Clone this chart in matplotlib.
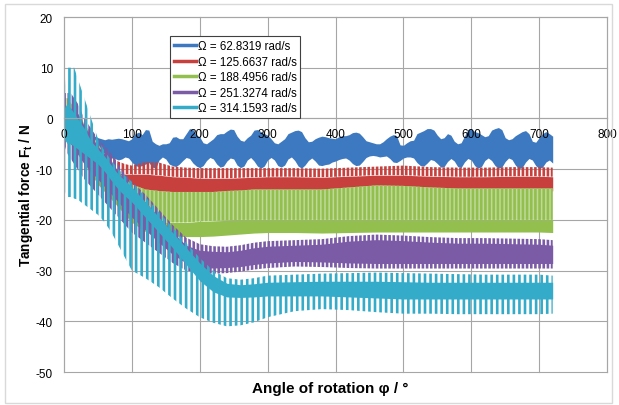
import matplotlib
matplotlib.use("Agg")
import matplotlib.pyplot as plt
from matplotlib.lines import Line2D
from matplotlib.patches import Rectangle

# angle grid (deg) used for the oscillating series envelopes
angle = [0, 5, 10, 15, 20, 30, 40, 50, 60, 70, 80, 90, 100, 120, 140, 160, 180,
         200, 220, 240, 260, 280, 300, 340, 380, 420, 460, 500, 540, 580, 620,
         660, 700, 720]

# Omega = 62.8319 rad/s : dense band, envelope read every 5 deg
blue_angle = list(range(0, 721, 5))
blue_upper = [
    2, 1, 0, -0.5, -1, -1.5, -2, -2.5, -3, -3.5,
    -3.8, -4.0, -4.2, -4.0, -4.1, -4.0, -3.9, -4.0, -4.2, -4.4,
    -4.0, -3.0, -2.7, -3.2, -2.2, -2.3, -4.5, -5.0, -5.3, -5.0,
    -5.0, -4.8, -3.7, -3.6, -4.0, -4.0, -3.0, -2.0, -2.2, -3.2,
    -3.7, -4.8, -5.0, -4.5, -4.0, -3.2, -3.0, -3.0, -2.5, -2.1,
    -2.2, -3.5, -4.3, -4.5, -3.8, -3.3, -2.3, -2.2, -2.6, -3.0,
    -3.3, -4.0, -4.8, -5.0, -4.5, -4.0, -3.0, -2.7, -2.4, -2.3,
    -2.6, -3.8, -4.6, -4.5, -4.0, -3.7, -3.5, -3.6, -3.8, -3.9,
    -4.0, -3.6, -3.4, -3.4, -3.2, -2.8, -2.7, -2.9, -3.6, -4.4,
    -4.6, -4.8, -5.0, -5.0, -4.6, -4.0, -3.5, -3.2, -3.4, -5.2,
    -5.3, -4.8, -4.4, -4.3, -3.0, -2.7, -2.4, -2.0, -2.0, -2.3,
    -3.3, -4.0, -3.8, -3.0, -3.3, -4.5, -5.0, -4.8, -3.5, -2.2,
    -2.0, -2.6, -2.8, -3.2, -3.6, -3.4, -2.3, -2.0, -1.8, -2.2,
    -3.8, -4.2, -4.0, -3.4, -3.0, -2.6, -2.4, -3.0, -4.5, -4.7,
    -3.8, -3.0, -2.6, -3.0, -3.5]
blue_lower = [
    -3, -4, -5, -5.5, -6, -6.5, -7, -7.2, -7.4, -7.5,
    -7.5, -7.5, -7.8, -7.7, -7.8, -7.9, -8.2, -8.0, -7.6, -7.8,
    -8.6, -9.3, -9.5, -9.3, -9.0, -8.7, -9.6, -9.8, -8.2, -7.6,
    -8.0, -9.0, -9.3, -9.5, -9.0, -8.3, -7.7, -7.9, -8.8, -9.4,
    -9.7, -9.3, -8.3, -7.7, -8.0, -9.0, -9.6, -9.4, -8.4, -7.8,
    -8.0, -9.2, -9.7, -9.4, -8.2, -7.7, -8.4, -9.4, -9.8, -9.4,
    -8.2, -7.7, -8.2, -9.3, -9.6, -9.2, -8.0, -7.6, -8.3, -9.4,
    -9.8, -9.2, -8.3, -7.8, -8.4, -9.2, -9.3, -9.1, -9.0, -8.6,
    -8.4, -8.1, -7.9, -7.8, -8.2, -8.9, -9.3, -9.2, -8.5, -7.7,
    -7.4, -7.3, -7.4, -7.6, -7.5, -7.4, -7.9, -8.6, -8.7, -8.3,
    -7.8, -7.6, -7.6, -7.8, -8.7, -9.3, -9.4, -8.8, -8.1, -8.3,
    -8.9, -9.6, -9.5, -8.5, -7.9, -8.4, -9.5, -9.7, -8.6, -7.9,
    -8.2, -9.3, -9.8, -9.5, -8.3, -7.8, -8.3, -9.3, -9.8, -9.6,
    -8.5, -7.8, -8.1, -9.2, -9.9, -9.7, -8.6, -7.9, -8.2, -9.3,
    -9.9, -9.6, -8.6, -8.2, -8.8]

# Omega = 125.6637 rad/s
red_upper = [3, 3, 3, 2, 1, -1, -3, -5, -6.5, -7.5, -8.5, -9, -9.3, -8.6, -8.7,
             -9.5, -9.7, -9.8, -9.8, -9.8, -9.8, -9.8, -9.8, -9.8, -9.9, -9.7,
             -9.5, -9.3, -9.6, -9.7, -9.7, -9.6, -9.6, -9.7]
red_core = [0, 0, -1, -2, -3, -5, -7, -8.5, -9.5, -10.3, -10.8, -11, -11, -11,
            -11.2, -11.5, -11.6, -11.8, -11.8, -11.8, -11.7, -11.6, -11.5, -11.5,
            -11.6, -11.4, -11.2, -11.2, -11.4, -11.5, -11.5, -11.4, -11.4, -11.5]
red_lower = [-2, -3, -4, -5, -6, -8, -9.5, -11, -12, -13, -14, -14.5, -15, -15.3,
             -15.3, -15, -14.8, -14.6, -14.5, -14.5, -14.4, -14.3, -14.3, -14.3,
             -14.3, -14.0, -13.8, -13.8, -14.0, -14.2, -14.3, -14.3, -14.3, -14.3]

# Omega = 188.4956 rad/s
green_upper = [4, 4, 3, 2, 1, -1, -3, -5, -7, -9, -10.5, -12, -13, -14, -14.3,
               -14.5, -14.5, -14.5, -14.5, -14.3, -14.2, -14.0, -14.0, -14.0,
               -14.0, -13.6, -13.2, -13.3, -13.6, -13.8, -13.8, -13.8, -13.8, -13.8]
green_core = [0, 0, -1, -2, -3, -5, -7, -9, -11, -13, -14.5, -16, -17.5, -19.5,
              -20.3, -20.5, -20.5, -20.3, -20.2, -20.1, -20, -20, -20, -20, -20,
              -20, -20, -20, -20, -20, -20, -20, -20, -20]
green_lower = [-3, -4, -5, -6, -7, -9, -11, -13, -14.5, -16, -17.5, -19, -20.5,
               -22.3, -23, -23.2, -23.3, -23.3, -23.2, -23, -22.8, -22.6, -22.5,
               -22.5, -22.6, -22.5, -22.4, -22.4, -22.4, -22.4, -22.4, -22.4,
               -22.4, -22.5]

# Omega = 251.3274 rad/s
purple_upper = [5, 5, 5, 4, 3, 0, -2, -4, -5.5, -7, -9, -11, -12.5, -15, -18,
                -21, -23.5, -24.8, -25.2, -25.3, -25, -24.5, -24.2, -24, -23.8,
                -23.2, -22.9, -23.1, -23.4, -23.6, -23.6, -23.7, -23.8, -24]
purple_core_top = [2, 2, 2, 1.5, 1, -1.5, -3.5, -5.5, -7, -8.5, -10.5, -12.5,
                   -14, -16.5, -19.5, -22.5, -25, -26, -26.2, -26.3, -26, -25.5,
                   -25.2, -25, -24.8, -24.2, -23.9, -24.1, -24.4, -24.6, -24.6,
                   -24.7, -24.8, -25]
purple_core_bottom = [-3, -4, -5, -6, -7, -9, -10.5, -12, -13.5, -15, -16.5, -18,
                      -19.5, -22, -24.5, -26.8, -28.5, -29.4, -29.5, -29.4, -29.2,
                      -28.8, -28.5, -28.2, -28.3, -28.5, -28.6, -28.6, -28.6, -28.6,
                      -28.6, -28.6, -28.6, -28.6]
purple_lower = [-5, -7, -8, -9, -10, -12, -13.5, -15, -16.5, -18, -19.5, -21,
                -22.5, -24.5, -26.5, -28.5, -30, -30.5, -30.6, -30.5, -30.2, -29.8,
                -29.5, -29.2, -29.3, -29.5, -29.6, -29.6, -29.6, -29.6, -29.6,
                -29.6, -29.6, -29.6]

# Omega = 314.1593 rad/s
cyan_upper = [5, 10, 10, 10, 8, 4, 0, -4, -6.5, -8.3, -10, -11.3, -12.5, -15.5,
              -18.5, -21.5, -24.5, -27.5, -30, -31.5, -31.8, -31.5, -31, -30.8,
              -30.6, -30.5, -30.4, -30.5, -30.6, -30.7, -30.8, -30.8, -30.8, -31]
cyan_core_top = [2, 3, 2, 1, 0, -2, -4.5, -6, -7.5, -9.3, -11, -12.3, -13.5,
                 -16.5, -19.5, -22.5, -25.5, -28.5, -31, -32.5, -32.8, -32.6, -32.3,
                 -32.2, -32.1, -32.1, -32.1, -32.2, -32.3, -32.3, -32.3, -32.3,
                 -32.3, -32.3]
cyan_core_bottom = [-4, -5, -5, -5.5, -6, -7, -8, -9, -10.5, -12.3, -14, -15.3,
                    -16.5, -19.5, -22.5, -25.5, -28.8, -32, -34.2, -35.2, -35.3,
                    -35.2, -35, -35, -35, -35.2, -35.4, -35.6, -35.6, -35.6, -35.6,
                    -35.6, -35.6, -35.6]
cyan_lower = [-14, -15.5, -15.5, -15.8, -16, -17, -18, -19, -20.5, -22.5, -25,
              -27.5, -30, -31.5, -33.3, -35.5, -37.5, -39.2, -40.3, -41, -40.8,
              -40.2, -39.2, -38, -37.6, -37.8, -38.2, -38.5, -38.5, -38.6, -38.6,
              -38.6, -38.6, -38.5]

labels = ["Ω = 62.8319 rad/s", "Ω = 125.6637 rad/s", "Ω = 188.4956 rad/s",
          "Ω = 251.3274 rad/s", "Ω = 314.1593 rad/s"]
colors = ["#3D79C0", "#C8403E", "#93BF4E", "#7B5AA6", "#33ABC9"]

x_ticks = list(range(0, 801, 100))
y_ticks = list(range(-50, 21, 10))

plt.rcParams["font.family"] = ["Liberation Sans", "DejaVu Sans"]
plt.rcParams["axes.unicode_minus"] = False
plt.rcParams["hatch.linewidth"] = 1.9
plt.rcParams["mathtext.fontset"] = "custom"
plt.rcParams["mathtext.rm"] = "Liberation Sans"
plt.rcParams["mathtext.bf"] = "Liberation Sans:bold"

fig = plt.figure(figsize=(6.19, 4.06), dpi=100)
ax = fig.add_axes([64 / 619, 1 - 373 / 406, 543 / 619, 355 / 406])

grid_color = "#A6A6A6"
for y in y_ticks:
    ax.axhline(y, color=grid_color, lw=0.8, zorder=0.5, clip_on=False)
for x in x_ticks:
    ax.axvline(x, color=grid_color, lw=0.8, zorder=0.5, clip_on=False)

# blue: solid band
ax.fill_between(blue_angle, blue_lower, blue_upper, color=colors[0], lw=0, zorder=1)

# red: spiky top, solid core
ax.fill_between(angle, red_core, red_upper, facecolor="none", edgecolor=colors[1],
                hatch="||||", lw=0, zorder=1)
ax.fill_between(angle, red_lower, red_core, color=colors[1], lw=0, zorder=1)

# green
ax.fill_between(angle, green_core, green_upper, facecolor="#BFD99A",
                edgecolor=colors[2], hatch="||||", lw=0, zorder=1)
ax.fill_between(angle, green_lower, green_core, color=colors[2], lw=0, zorder=1)

# purple
ax.fill_between(angle, purple_lower, purple_upper, facecolor="none",
                edgecolor=colors[3], hatch="||||", lw=0, zorder=1)
ax.fill_between(angle, purple_core_bottom, purple_core_top, color=colors[3],
                lw=0, zorder=1)

# cyan
ax.fill_between(angle, cyan_lower, cyan_upper, facecolor="none",
                edgecolor=colors[4], hatch="|||", lw=0, zorder=1)
ax.fill_between(angle, cyan_core_bottom, cyan_core_top, color=colors[4],
                lw=0, zorder=1)

ax.set_xlim(0, 800)
ax.set_ylim(-50, 20)
ax.set_xticks(x_ticks)
ax.set_yticks(y_ticks)
ax.tick_params(length=0, labelsize=8.5)
ax.tick_params(axis="x", pad=7)
ax.tick_params(axis="y", pad=8)

ax.spines["bottom"].set_position(("data", 0))
for s in ax.spines.values():
    s.set_color(grid_color)
    s.set_linewidth(0.8)

ax.set_xlabel("Angle of rotation φ / °", fontsize=11, fontweight="bold")
ax.xaxis.set_label_coords(0.49, -0.045)
ax.xaxis.label.set_va("center")
ax.set_ylabel(r"Tangential force $\mathbf{F_t}$ / N", fontsize=9.8, fontweight="bold")
ax.yaxis.set_label_coords(-0.070, 0.5)
ax.yaxis.label.set_va("center")

handles = [Line2D([], [], color=c, lw=2.5) for c in colors]
leg = ax.legend(handles, labels, loc="upper left", bbox_to_anchor=(0.195, 0.946),
                borderaxespad=0, fancybox=False, edgecolor="#404040", framealpha=1,
                fontsize=8.3, handlelength=1.9, handletextpad=0.15,
                labelspacing=0.3, borderpad=0.35)
leg.get_frame().set_linewidth(0.8)

fig.patches.append(Rectangle((5 / 619, 2 / 406), 607 / 619, 399 / 406,
                             transform=fig.transFigure, fill=False,
                             edgecolor="#D9D9D9", lw=1))

fig.savefig("out.png", dpi=100)
